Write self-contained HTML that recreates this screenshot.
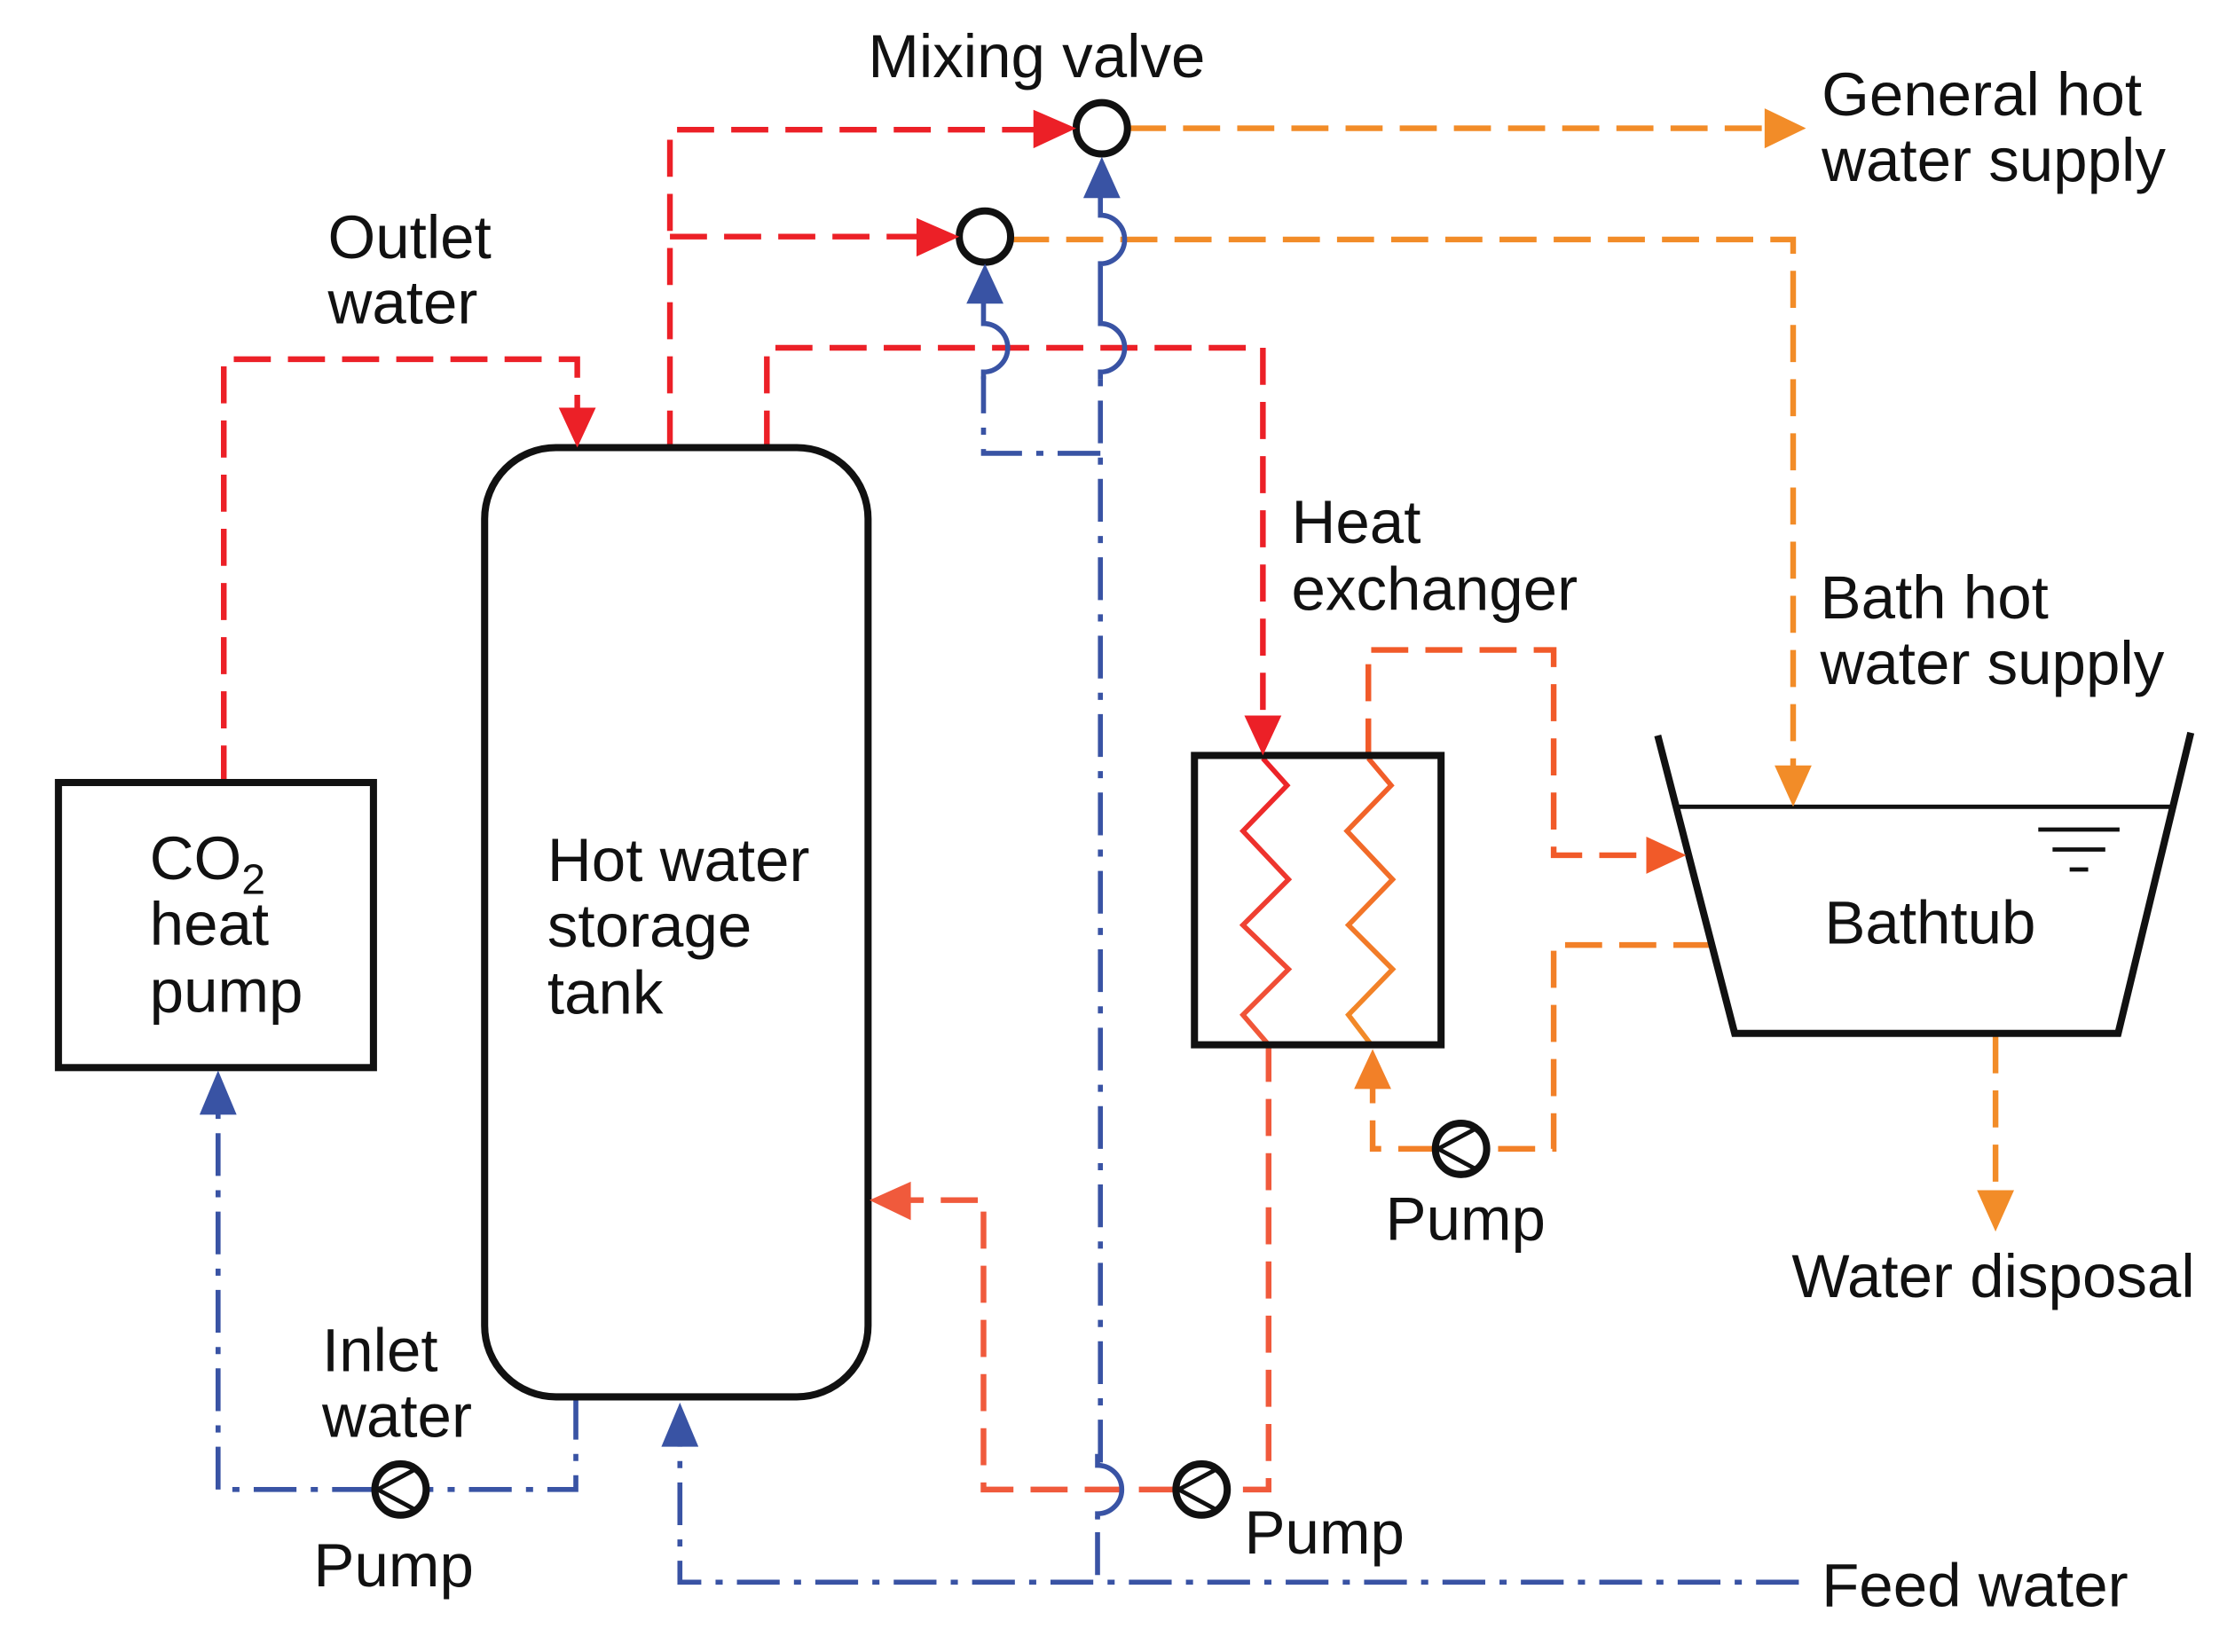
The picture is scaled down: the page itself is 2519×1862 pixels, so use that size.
<!DOCTYPE html>
<html><head><meta charset="utf-8"><style>
html,body{margin:0;padding:0;background:#fff;}
svg{display:block;}
text{font-family:"Liberation Sans",sans-serif;font-size:43px;fill:#111;}
</style></head><body>
<svg width="2519" height="1862" viewBox="0 0 1568 1159" preserveAspectRatio="none" xmlns="http://www.w3.org/2000/svg">
<defs>
<linearGradient id="g1" x1="0" y1="0" x2="0" y2="1"><stop offset="0" stop-color="#ec2027"/><stop offset="1" stop-color="#f15a3a"/></linearGradient>
<linearGradient id="g2" x1="0" y1="0" x2="0" y2="1"><stop offset="0" stop-color="#f15a29"/><stop offset="1" stop-color="#f28c28"/></linearGradient>
</defs>
<g fill="none" stroke-linejoin="miter">
<g stroke="#ec2027" stroke-width="4" stroke-dasharray="26 12">
<path d="M157,549 V252 H405 V290"/>
<path d="M470,314 V91 H740"/>
<path d="M470,166 H658"/>
<path d="M538,314 V244 H886 V506"/>
</g>
<g stroke="#f05a3c" stroke-width="4" stroke-dasharray="26 12">
<path d="M890,733 V1045 H862"/>
<path d="M825,1045 H690 V842 H636"/>
</g>
<g stroke="#f15a29" stroke-width="4" stroke-dasharray="26 12">
<path d="M960,530 V456 H1090 V600 H1160"/>
</g>
<g stroke="#f28028" stroke-width="4" stroke-dasharray="26 12">
<path d="M1200,663 H1090 V806 H1043"/>
<path d="M1007,806 H963 V762"/>
</g>
<g stroke="#f28c28" stroke-width="4" stroke-dasharray="26 12">
<path d="M792,90 H1240"/>
<path d="M710,168 H1258 V540"/>
<path d="M1400,727 V838"/>
</g>
<g stroke="#3953a4" stroke-width="3.5" stroke-dasharray="30 10 5 10">
<path d="M404,980 V1045 H299"/>
<path d="M263,1045 H153 V780"/>
<path d="M1262,1110 H477 V1012"/>
<path d="M770,1105 V1064"/>
<path d="M772,1026 V264"/>
<path d="M772,318 H690 V264"/>
</g>
<g stroke="#3953a4" stroke-width="3.5">
<path d="M690,266 V261 A17,17 0 0 0 690,227 V210"/>
<path d="M772,266 V261 A17,17 0 0 0 772,227 V185 A17,17 0 0 0 772,151 V136"/>
<path d="M770,1066 V1062 A17,17 0 0 0 770,1028 V1020"/>
</g>
<polyline points="886,532 903,551 872,583 904,617 872,649 904,680 872,712 890,733" stroke="url(#g1)" stroke-width="3.5"/>
<polyline points="960,532 976,551 945,583 977,617 946,649 977,680 946,712 962,733" stroke="url(#g2)" stroke-width="3.5"/>
<g stroke="#111" stroke-width="5">
<rect x="41" y="549" width="221" height="200"/>
<rect x="340" y="314" width="269" height="666" rx="50" ry="50"/>
<rect x="838" y="530" width="173" height="203"/>
<path d="M1163,516 L1217,725 H1486 L1537,514"/>
<circle cx="773" cy="90" r="18"/>
<circle cx="691" cy="166" r="18"/>
<circle cx="281" cy="1045" r="18"/>
<circle cx="843" cy="1045" r="18"/>
<circle cx="1025" cy="806" r="18"/>
</g>
<g stroke="#111" stroke-width="3">
<path d="M1178,566 H1524"/>
<path d="M1430,582 H1487 M1440,596 H1477 M1452,610 H1465"/>
<path d="M265,1045 L291,1031 M265,1045 L291,1059"/>
<path d="M827,1045 L853,1031 M827,1045 L853,1059"/>
<path d="M1009,806 L1035,792 M1009,806 L1035,820"/>
</g>
</g>
<g stroke="none">
<polygon fill="#ec2027" points="392,286 418,286 405,314"/>
<polygon fill="#ec2027" points="725,77 725,104 755,90"/>
<polygon fill="#ec2027" points="643,153 643,180 673,166"/>
<polygon fill="#ec2027" points="873,502 899,502 886,530"/>
<polygon fill="#f05a3c" points="639,829 639,856 610,842"/>
<polygon fill="#f15a29" points="1155,587 1155,613 1183,600"/>
<polygon fill="#f28028" points="950,764 976,764 963,736"/>
<polygon fill="#f28c28" points="1238,76 1238,104 1267,90"/>
<polygon fill="#f28c28" points="1245,537 1271,537 1258,566"/>
<polygon fill="#f28c28" points="1387,835 1413,835 1400,864"/>
<polygon fill="#3953a4" points="140,782 166,782 153,751"/>
<polygon fill="#3953a4" points="464,1015 490,1015 477,984"/>
<polygon fill="#3953a4" points="678,213 704,213 691,185"/>
<polygon fill="#3953a4" points="760,139 786,139 773,110"/>
</g>
<text x="609" y="54">Mixing valve</text>
<text x="1278" y="81">General hot</text>
<text x="1278" y="127">water supply</text>
<text x="230" y="181">Outlet</text>
<text x="230" y="227">water</text>
<text x="906" y="381">Heat</text>
<text x="906" y="428">exchanger</text>
<text x="1277" y="434">Bath hot</text>
<text x="1277" y="480">water supply</text>
<text x="105" y="617">CO<tspan font-size="30" dy="10">2</tspan></text>
<text x="105" y="663">heat</text>
<text x="105" y="710">pump</text>
<text x="384" y="618">Hot water</text>
<text x="384" y="664">storage</text>
<text x="384" y="711">tank</text>
<text x="1280" y="662">Bathtub</text>
<text x="972" y="870">Pump</text>
<text x="1257" y="910">Water disposal</text>
<text x="226" y="962">Inlet</text>
<text x="226" y="1008">water</text>
<text x="220" y="1113">Pump</text>
<text x="873" y="1090">Pump</text>
<text x="1278" y="1127">Feed water</text>
</svg>
</body></html>
